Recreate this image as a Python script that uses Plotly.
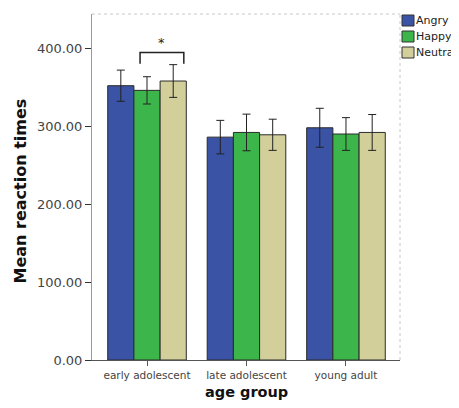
import plotly.graph_objects as go

# ---- data ----
categories = ["early adolescent", "late adolescent", "young adult"]
series_names = ["Angry", "Happy", "Neutral"]
angry = [352, 286, 298]
happy = [346, 292, 290]
neutral = [358, 289, 292]
angry_err = [20, 21.5, 25]
happy_err = [17.5, 23.5, 21]
neutral_err = [21, 20, 23]
y_ticks = [0, 100, 200, 300, 400]
colors = ["#3a53a4", "#3cb54a", "#d3cf9b"]

# significance bracket (data coords)
bracket_x = [-0.07, 0.37]
bracket_y = [380, 394.5]
star_y = 408

values = [angry, happy, neutral]
errors = [angry_err, happy_err, neutral_err]

fig = go.Figure()
for name, vals, errs, col in zip(series_names, values, errors, colors):
    fig.add_trace(go.Bar(
        x=categories, y=vals, name=name,
        marker=dict(color=col, line=dict(color="#2b2b2b", width=1)),
        error_y=dict(type="data", array=errs, visible=True,
                     color="#222222", thickness=1, width=4),
        showlegend=False,
    ))

font_family = "DejaVu Sans"

# bracket
fig.add_shape(type="path",
              path=f"M {bracket_x[0]},{bracket_y[0]} L {bracket_x[0]},{bracket_y[1]} "
                   f"L {bracket_x[1]},{bracket_y[1]} L {bracket_x[1]},{bracket_y[0]}",
              xref="x", yref="y", line=dict(color="#222222", width=1.5))
fig.add_annotation(x=(bracket_x[0] + bracket_x[1]) / 2, y=star_y, xref="x", yref="y",
                   text="*", showarrow=False,
                   font=dict(family=font_family, size=13, color="#222222"))

# frame: dashed top and right
fig.add_shape(type="line", xref="paper", yref="paper", x0=0, x1=1, y0=1, y1=1,
              line=dict(color="#c8c8c8", width=1, dash="dot"))
fig.add_shape(type="line", xref="paper", yref="paper", x0=1, x1=1, y0=0, y1=1,
              line=dict(color="#c8c8c8", width=1, dash="dot"))

# custom legend
W, H = 308.0, 346.0
leg_left_px = 402 - 92
row_px = [20.5, 36.5, 52.5]
for name, col, ry in zip(series_names, colors, row_px):
    yc = (360 - ry) / H
    fig.add_shape(type="rect", xref="paper", yref="paper",
                  x0=leg_left_px / W, x1=(leg_left_px + 12) / W,
                  y0=yc - 5.5 / H, y1=yc + 5.5 / H,
                  fillcolor=col, line=dict(color="#333333", width=1))
    fig.add_annotation(x=(leg_left_px + 12) / W, y=yc, xref="paper", yref="paper",
                       text=name, showarrow=False, xanchor="left", yanchor="middle",
                       font=dict(family=font_family, size=11, color="#222222"))

# axis titles
fig.add_annotation(x=(19.5 - 92) / W, y=(360 - 191) / H, xref="paper", yref="paper",
                   text="<b>Mean reaction times</b>", textangle=-90, showarrow=False,
                   xanchor="center", yanchor="middle",
                   font=dict(family=font_family, size=16, color="#111111"))
fig.add_annotation(x=0.5, y=(360 - 392) / H, xref="paper", yref="paper",
                   text="<b>age group</b>", showarrow=False,
                   xanchor="center", yanchor="middle",
                   font=dict(family=font_family, size=14.5, color="#111111"))

fig.update_layout(
    width=451, height=392,
    margin=dict(l=84, r=59, t=6, b=40),
    paper_bgcolor="white", plot_bgcolor="white",
    barmode="group", bargap=0.21, bargroupgap=0,
    font=dict(family=font_family, color="#333333"),
    xaxis=dict(range=[-0.553, 2.543], showgrid=False, zeroline=False,
               showline=True, linecolor="#555555", linewidth=1,
               ticks="outside", ticklen=5, tickcolor="#555555",
               tickfont=dict(size=10.5, color="#444444")),
    yaxis=dict(range=[0, 444], showgrid=False, zeroline=False,
               showline=True, linecolor="#9a9a9a", linewidth=1,
               tickvals=y_ticks, tickformat=".2f",
               ticks="outside", ticklen=6, tickcolor="#333333",
               tickfont=dict(size=13, color="#444444")),
)

fig.write_html("out.html")
